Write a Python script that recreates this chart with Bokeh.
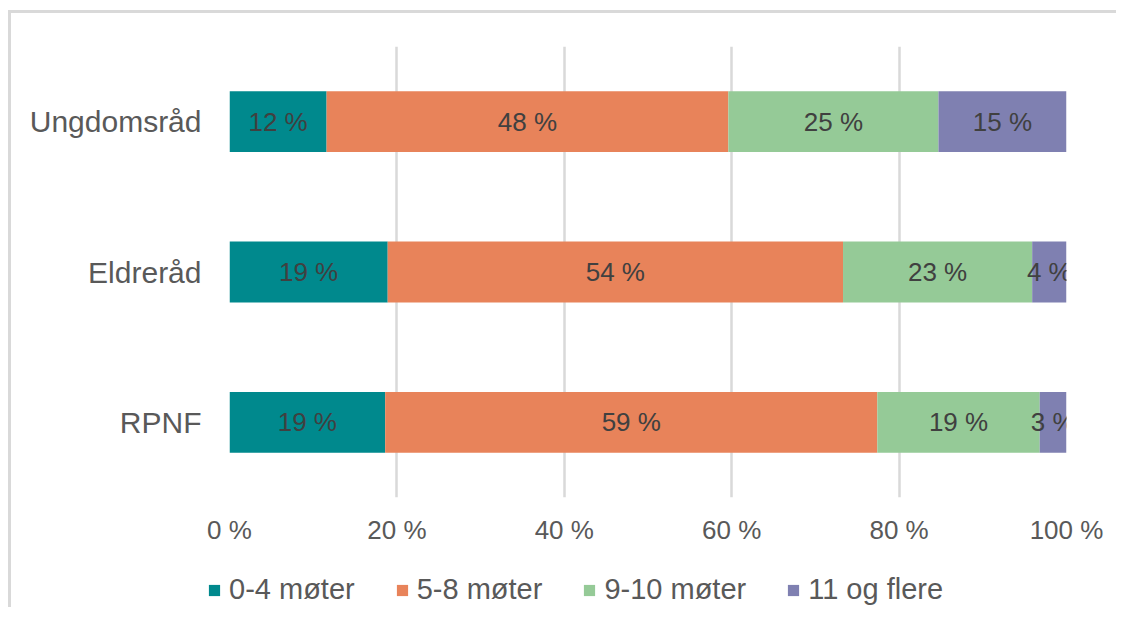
from bokeh.plotting import figure
from bokeh.layouts import column
from bokeh.models import ColumnDataSource, FactorRange, Range1d, FixedTicker, Legend, LegendItem
from bokeh.core.properties import value
from bokeh.embed import file_html
from bokeh.resources import INLINE

categories = ["Ungdomsråd", "Eldreråd", "RPNF"]
series = ["0-4 møter", "5-8 møter", "9-10 møter", "11 og flere"]
m0_4 = [11.6, 18.9, 18.6]
m5_8 = [48.0, 54.4, 58.8]
m9_10 = [25.1, 22.6, 19.4]
m11 = [15.3, 4.1, 3.2]
colors = ["#00898d", "#e8835a", "#95ca97", "#7f80b1"]
x_ticks = [0, 20, 40, 60, 80, 100]

FONT = "Liberation Sans"
FS = "26px"

data = {"cat": categories}
keys = ["s0", "s1", "s2", "s3"]
for k, vals in zip(keys, [m0_4, m5_8, m9_10, m11]):
    data[k] = vals
src = ColumnDataSource(data)

p = figure(y_range=FactorRange(*reversed(categories), range_padding=0),
           x_range=Range1d(0, 100),
           width=1105, height=539, output_backend="svg", toolbar_location=None,
           min_border_left=218, min_border_right=50, min_border_top=33, min_border_bottom=55)
p.outline_line_color = None

renderers = p.hbar_stack(keys, y="cat", height=0.405, color=colors, source=src, line_color=None)

# data labels
lx, ly, lt = [], [], []
for i, c in enumerate(categories):
    left = 0.0
    for vals in [m0_4, m5_8, m9_10, m11]:
        v = vals[i]
        lx.append(left + v / 2)
        ly.append(c)
        lt.append(f"{round(v)} %")
        left += v
lsrc = ColumnDataSource(dict(x=lx, y=ly, t=lt))
p.text(x="x", y="y", text="t", source=lsrc, text_align="center", text_baseline="middle",
       text_font=value(FONT), text_font_size=FS, text_color="#404040")

p.xgrid.ticker = FixedTicker(ticks=x_ticks)
p.xgrid.grid_line_color = "#d9d9d9"
p.xgrid.grid_line_width = 2.5
p.ygrid.grid_line_color = None

p.xaxis.ticker = FixedTicker(ticks=x_ticks)
p.xaxis.major_label_overrides = {t: f"{t} %" for t in x_ticks}
for ax in (p.xaxis, p.yaxis):
    ax.axis_line_color = None
    ax.major_tick_line_color = None
    ax.minor_tick_line_color = None
    ax.major_label_text_font = FONT
    ax.major_label_text_color = "#595959"
p.xaxis.major_label_text_font_size = FS
p.yaxis.major_label_text_font_size = "30px"
p.xaxis.major_label_standoff = 11
p.yaxis.major_label_standoff = 22

# legend in its own strip below the chart; the strip's range holds none of the
# categories, so its bars are not drawn and only the legend shows
lf = figure(width=1105, height=55, x_range=Range1d(0, 100),
            y_range=FactorRange("legend"),
            output_backend="svg", toolbar_location=None, min_border=0)
lf.outline_line_color = None
lf.axis.visible = False
lf.grid.visible = False
for fig in (p, lf):
    try:
        fig.frame_align = False
    except Exception:
        pass
leg_renderers = lf.hbar_stack(keys, y="cat", height=0.405, color=colors, source=src, line_color=None)
legend = Legend(items=[LegendItem(label=s, renderers=[r]) for s, r in zip(series, leg_renderers)],
                orientation="horizontal", location=(196, 1), padding=0, margin=0,
                spacing=40, label_standoff=8, glyph_width=14, glyph_height=14,
                label_text_font=FONT, label_text_font_size="29px", label_text_color="#595959",
                border_line_color=None, background_fill_alpha=0)
lf.add_layout(legend, "center")

layout = column(p, lf, spacing=0,
                styles={"position": "relative", "left": "8px", "top": "10px",
                        "border-top": "3px solid #d9d9d9", "border-left": "3px solid #d9d9d9"})

open("out.html", "w").write(file_html(layout, INLINE))
